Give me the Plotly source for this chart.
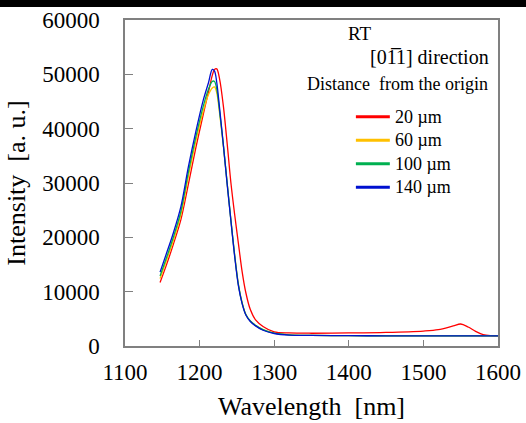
import plotly.graph_objects as go

# ---- data ----
wavelength = [1147, 1155, 1165, 1175, 1185, 1195, 1205, 1212, 1217, 1220, 1223, 1227, 1232,
              1237, 1242, 1247, 1252, 1257, 1262, 1268, 1275, 1285, 1300, 1320, 1350, 1400,
              1450, 1500, 1520, 1540, 1550, 1560, 1570, 1580, 1590, 1600]

i_20um = [11700, 14700, 18800, 23300, 29800, 36500, 42700, 46800, 49800, 50900, 51000, 49000, 44000,
          37200, 30000, 24200, 18900, 13700, 9800, 6700, 4800, 3600, 2600, 2400, 2350, 2400,
          2500, 2750, 3000, 3700, 4050, 3500, 2700, 2100, 1900, 1850]
i_60um = [12400, 15500, 19500, 24200, 31200, 37700, 43300, 46300, 47500, 47700, 46600, 42600, 36600,
          29900, 23200, 16800, 11400, 8000, 5800, 4600, 3800, 3000, 2350, 2050, 1950, 1900,
          1880, 1870, 1870, 1860, 1860, 1860, 1850, 1850, 1850, 1850]
i_100um = [12900, 16000, 20100, 24800, 32000, 38500, 44200, 47300, 48700, 48700, 47300, 43000, 36800,
           29900, 23100, 16700, 11300, 7900, 5800, 4600, 3800, 3000, 2350, 2050, 1950, 1900,
           1880, 1870, 1870, 1860, 1860, 1860, 1850, 1850, 1850, 1850]
i_140um = [13600, 16800, 20900, 25700, 33000, 39500, 45300, 48500, 50900, 50600, 48500, 43500, 36800,
           29700, 23000, 16500, 11100, 7800, 5700, 4500, 3700, 2900, 2300, 2000, 1950, 1900,
           1880, 1870, 1870, 1860, 1860, 1860, 1850, 1850, 1850, 1850]

series_names = ["20 µm", "60 µm", "100 µm", "140 µm"]
series_values = [i_20um, i_60um, i_100um, i_140um]
series_colors = ["#ff0000", "#ffc000", "#00b050", "#0010d0"]

x_ticks = [1100, 1200, 1300, 1400, 1500, 1600]
y_ticks = [0, 10000, 20000, 30000, 40000, 50000, 60000]
y_tick_labels = ["0", "10000", "20000", "30000", "40000", "50000", "60000"]
x_tick_labels = ["1100", "1200", "1300", "1400", "1500", "1600"]

header_lines = ["RT", "[01\u03051] direction", "Distance  from the origin"]

FONT = "Liberation Serif"

fig = go.Figure()
for name, vals, col in zip(series_names, series_values, series_colors):
    fig.add_trace(go.Scatter(x=wavelength, y=vals, mode="lines", name=name,
                             line=dict(color=col, width=1.3, shape="spline", smoothing=0.9),
                             showlegend=False))

axis_common = dict(showline=True, linecolor="#808080", linewidth=1.5, mirror=True,
                   ticks="inside", tickcolor="#808080", showgrid=False, zeroline=False,
                   automargin=False,
                   tickfont=dict(family=FONT, size=23, color="#000000"))

# ---- legend (drawn in the upper right of the plot area) ----
shapes = [dict(type="rect", xref="paper", yref="paper", x0=-0.5, x1=1.5, y0=1.040, y1=1.08,
               fillcolor="black", line=dict(width=0), layer="above")]
annotations = [
    dict(text=header_lines[0], xref="paper", yref="paper", x=0.592, y=0.958, xanchor="left",
         yanchor="middle", showarrow=False, font=dict(family=FONT, size=19)),
    dict(text=header_lines[1], xref="paper", yref="paper", x=0.982, y=0.888,
         xanchor="right", yanchor="middle", showarrow=False, font=dict(family=FONT, size=20)),
    dict(text=header_lines[2], xref="paper", yref="paper", x=0.979, y=0.804,
         xanchor="right", yanchor="middle", showarrow=False, font=dict(family=FONT, size=18)),
]
leg_x0, leg_x1, leg_y0, leg_dy = 0.619, 0.710, 0.703, 0.072
for k, (name, col) in enumerate(zip(series_names, series_colors)):
    yk = leg_y0 - k * leg_dy
    shapes.append(dict(type="line", xref="paper", yref="paper", x0=leg_x0, x1=leg_x1,
                       y0=yk, y1=yk, line=dict(color=col, width=3)))
    annotations.append(dict(text=name, xref="paper", yref="paper", x=leg_x1 + 0.008, y=yk,
                            xanchor="left", yanchor="middle", showarrow=False,
                            font=dict(family=FONT, size=18)))

fig.update_layout(
    width=526, height=423,
    margin=dict(l=125, r=28, t=20, b=77),
    paper_bgcolor="white", plot_bgcolor="white",
    font=dict(family=FONT, color="#000000"),
    showlegend=False,
    xaxis=dict(range=[1100, 1600], tickvals=x_ticks, ticktext=x_tick_labels, ticklen=6,
               ticklabelstandoff=5,
               title=dict(text="Wavelength  [nm]", font=dict(family=FONT, size=26), standoff=12),
               **axis_common),
    yaxis=dict(range=[0, 60000], tickvals=y_ticks, ticktext=y_tick_labels, ticklen=8,
               ticklabelstandoff=19,
               title=dict(text="Intensity  [a. u.]", font=dict(family=FONT, size=26), standoff=9),
               **axis_common),
    shapes=shapes,
    annotations=annotations,
)

fig.write_html("out.html", config={"displayModeBar": False},
               post_script="document.body.style.margin='0';document.body.style.overflow='hidden';")
